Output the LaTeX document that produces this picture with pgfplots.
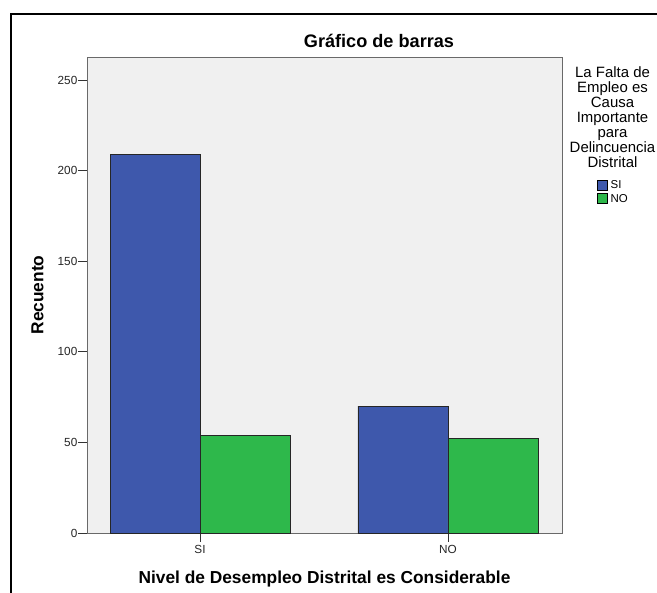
\documentclass[border=0pt]{standalone}
\usepackage{fontspec}
\setmainfont{Liberation Sans}
\usepackage{pgfplots}
\pgfplotsset{compat=1.18}
\definecolor{barblue}{RGB}{62,88,172}
\definecolor{bargreen}{RGB}{46,184,75}
\definecolor{plotbg}{RGB}{240,240,240}
\definecolor{framegray}{RGB}{105,105,105}
\begin{document}
\begin{tikzpicture}
\path[use as bounding box, clip] (0bp,0bp) rectangle (657bp,-593bp);
\fill[white] (0bp,0bp) rectangle (657bp,-593bp);
\draw[black, line width=2bp] (10.7bp,-14bp) rectangle (760bp,-660bp);
\begin{axis}[
  at={(87bp,-533bp)}, anchor=south west,
  scale only axis, width=475bp, height=476bp,
  xmin=-0.456, xmax=1.46, ymin=0, ymax=262.7,
  axis background/.style={fill=plotbg},
  axis line style={framegray, line width=0.9bp},
  xtick={0,1}, xticklabels={SI,NO},
  ytick={0,50,100,150,200,250},
  tick align=outside, xtick pos=bottom, ytick pos=left,
  major tick length=8.5bp,
  tick style={black!80, line width=0.9bp},
  /pgf/number format/assume math mode=true,
  ticklabel style={font=\fontsize{11.8}{13}\selectfont, text=black!85},
  yticklabel style={inner sep=1bp},
  xticklabel style={inner sep=0bp, yshift=-4bp},
  every axis title/.style={at={(axis description cs:0.6147,1.0195)}, anchor=base, font=\bfseries\fontsize{18.2}{20}\selectfont},
  title={Gráfico de barras},
  every axis x label/.style={at={(axis description cs:0.5,0)}, anchor=base, yshift=-50.3bp, font=\bfseries\fontsize{17.4}{19}\selectfont},
  every axis y label/.style={at={(axis description cs:-0.092,0.5)}, rotate=90, anchor=base, font=\bfseries\fontsize{17.4}{19}\selectfont},
  xlabel={Nivel de Desempleo Distrital es Considerable},
  ylabel={Recuento},
  legend style={at={(axis description cs:1.0735,0.744)}, anchor=north west, draw=none, fill=none, inner sep=0pt, row sep=2.5bp, column sep=2bp, font=\fontsize{11.5}{12}\selectfont, nodes={inner sep=1bp}},
  legend cell align=left,
  legend image code/.code={\draw[#1, draw=black, line width=0.6bp] (0bp,-5bp) rectangle (10bp,5bp);},
  bar width=0.363,
]
\addplot[ybar, bar shift=-0.1815, fill=barblue, draw=black!85, line width=0.7bp] coordinates {(0,209) (1,70)};
\addplot[ybar, bar shift=0.1815, fill=bargreen, draw=black!85, line width=0.7bp] coordinates {(0,54) (1,52)};
\legend{SI,NO}
\end{axis}
\node[align=center, anchor=north, inner sep=0pt, font=\fontsize{15}{15.2}\selectfont] at (612.5bp,-66bp) {La Falta de\\Empleo es\\Causa\\Importante\\para\\Delincuencia\\Distrital};
\end{tikzpicture}
\end{document}
